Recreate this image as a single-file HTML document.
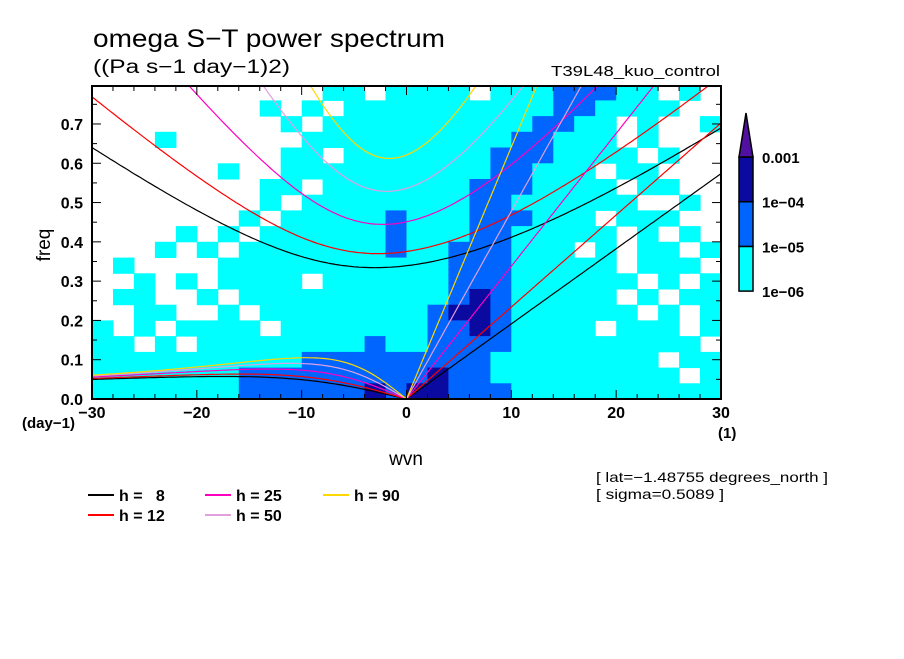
<!DOCTYPE html>
<html><head><meta charset="utf-8"><style>
body{margin:0;background:#fff;width:904px;height:654px;overflow:hidden;font-family:"Liberation Sans",sans-serif}
svg text{font-family:"Liberation Sans",sans-serif;fill:#000}
</style></head><body>
<svg id="chart" width="904" height="654" viewBox="0 0 904 654" xmlns="http://www.w3.org/2000/svg">
<text x="93" y="47" font-size="25" textLength="352" lengthAdjust="spacingAndGlyphs">omega S−T power spectrum</text>
<text x="93" y="73" font-size="19" textLength="197" lengthAdjust="spacingAndGlyphs">((Pa s−1 day−1)2)</text>
<text x="551" y="76" font-size="15" textLength="169" lengthAdjust="spacingAndGlyphs">T39L48_kuo_control</text>
<g id="field"></g>
<g id="curves"></g>
<rect x="92" y="86" width="629" height="313" fill="none" stroke="#000" stroke-width="2"/>
<g id="ticks"></g>
<text x="50" y="245" font-size="19" text-anchor="middle" transform="rotate(-90 50 245)">freq</text>
<text x="406" y="465" font-size="19" text-anchor="middle">wvn</text>
<text x="22" y="428" font-size="15" font-weight="bold">(day−1)</text>
<text x="718" y="438" font-size="15" font-weight="bold">(1)</text>
<g id="cbar"></g>
<text x="596" y="482" font-size="14" textLength="232" lengthAdjust="spacingAndGlyphs">[ lat=−1.48755 degrees_north ]</text>
<text x="596" y="499" font-size="14" textLength="128" lengthAdjust="spacingAndGlyphs">[ sigma=0.5089 ]</text>
<g id="legend"></g>
</svg>
<script>
const depths=[8,12,25,50,90];
const depthColors=["#000000","#ff0000","#ff00c0","#e0a0e0","#ffd700"];
const levelLabels=["1e-06","1e-05","1e-04","0.001"];
const levelColors=["#ffffff","#00ffff","#0064ff","#0a0aa0"];
const xTicks=[-30,-20,-10,0,10,20,30];
const yTicks=[0.0,0.1,0.2,0.3,0.4,0.5,0.6,0.7];
// power level grid (0=below 1e-06 .. 3), rows from freq 0.80 down to 0, cols wvn -30..30 step 2
const fieldRows=[
"000000000001101111011122211010",
"000000001010111111111122111100",
"000000000101111111111221101001",
"000100000011111111112211101000",
"000000000110111111122211110100",
"000000100111111111122111011000",
"000000001101111111222111101100",
"000000001011111111221111110010",
"000000010111112111222111011100",
"000010101111112111221111101010",
"000101011111112112221110101101",
"010000111111111112221111101110",
"001010111101111112221111110101",
"011001011111111112321111101011",
"001100101111111123321111110101",
"101011110111111122321111011101",
"110101111111121122221111111110",
"111111111122222222211111111011",
"111111122222222232211111111101",
"111111122222232332221111111111"];
const xMin=-30,xMax=30,fMax=0.8;
const X0=92,X1=721,Y0=399,YT=86,PPF=392.9;
const sx=k=>X0+(k-xMin)*(X1-X0)/(xMax-xMin);
const sy=f=>Y0-f*PPF;
const NS="http://www.w3.org/2000/svg";
function mk(t,a,p){const e=document.createElementNS(NS,t);for(const k in a)e.setAttribute(k,a[k]);p.appendChild(e);return e;}
const svg=document.getElementById('chart');
const defs=mk('defs',{},svg);
const cp=mk('clipPath',{id:'pc'},defs);
mk('rect',{x:X0,y:YT,width:X1-X0,height:Y0-YT},cp);
const field=document.getElementById('field');
field.setAttribute('clip-path','url(#pc)');
const nR=fieldRows.length,nC=fieldRows[0].length,df=fMax/nR,dk=(xMax-xMin)/nC;
fieldRows.forEach((row,ri)=>{
  for(let ci=0;ci<nC;ci++){
    const v=+row[ci]; if(!v) continue;
    const k0=xMin+ci*dk,f1=fMax-ri*df;
    const r=mk('rect',{x:sx(k0).toFixed(1),y:sy(f1).toFixed(1),width:(sx(k0+dk)-sx(k0)+0.5).toFixed(1),height:(df*PPF+0.5).toFixed(1),fill:levelColors[v]},field);
    
    
  }
});
const g=9.81,a=6.371e6,beta=2*7.292e-5/a,toCpd=86400/(2*Math.PI);
function roots(k,c){const p=-(c*c*k*k+3*beta*c),q=-beta*c*c*k;const m=2*Math.sqrt(-p/3);
  let arg=3*q/(2*p)*Math.sqrt(-3/p);arg=Math.max(-1,Math.min(1,arg));const th=Math.acos(arg)/3;
  return [0,1,2].map(j=>m*Math.cos(th-2*Math.PI*j/3)).sort((u,v)=>u-v);}
const curves=document.getElementById('curves');
curves.setAttribute('clip-path','url(#pc)');
depths.forEach((h,i)=>{
  const c=Math.sqrt(g*h);
  let ig=[],ros=[],kel=[];
  for(let s=xMin;s<=xMax+1e-9;s+=0.25){
    const k=s/a;const r=roots(k,c);
    ig.push([sx(s),sy(r[2]*toCpd)]);
    if(s<=0) ros.push([sx(s),sy(Math.max(0,r[1])*toCpd)]);
    if(s>=0) kel.push([sx(s),sy(c*k*toCpd)]);
  }
  [['ig',ig],['rossby',ros],['kelvin',kel]].forEach(([nm,pts])=>{
    const e=mk('polyline',{points:pts.map(p=>p[0].toFixed(1)+','+p[1].toFixed(1)).join(' '),fill:'none',stroke:depthColors[i],'stroke-width':1.2},curves);
    
    
  });
});
const tk=document.getElementById('ticks');
function line(x1,y1,x2,y2,w){mk('line',{x1,y1,x2,y2,stroke:'#000','stroke-width':w||1},tk);}
for(let s=xMin;s<=xMax;s+=2){const x=sx(s),L=(s%10===0)?9:5;line(x,Y0,x,Y0-L);line(x,YT,x,YT+L);}
for(let f=0;f<=0.8001;f+=0.05){const y=sy(f);if(y<YT)continue;const L=(Math.round(f*100)%10===0)?9:5;line(X0,y,X0+L,y);line(X1,y,X1-L,y);}
xTicks.forEach(v=>{const t=mk('text',{x:sx(v),y:418,'font-size':16,'font-weight':'bold','text-anchor':'middle'},tk);t.textContent=v<0?'−'+(-v):String(v);
  
  });
yTicks.forEach(v=>{const t=mk('text',{x:83,y:sy(v)+6,'font-size':16,'font-weight':'bold','text-anchor':'end'},tk);t.textContent=v.toFixed(1);
  
  });
const cb=document.getElementById('cbar');
const cbx=739,cbw=14,cbTop=157,cbh=44.7;
for(let i=1;i<=3;i++){const y=cbTop+(3-i)*cbh;
  const r=mk('rect',{x:cbx,y:y,width:cbw,height:cbh,fill:levelColors[i],stroke:'#000','stroke-width':1.5},cb);
  
  }
const tri=mk('polygon',{points:`${cbx},${cbTop} ${cbx+cbw},${cbTop} ${cbx+cbw/2},113`,fill:'#5010a0',stroke:'#000','stroke-width':1.5},cb);


levelLabels.forEach((l,i)=>{const t=mk('text',{x:762,y:cbTop+(3-i)*cbh+6,'font-size':15,'font-weight':'bold'},cb);t.textContent=l.replace('-','−');
  
  });
const lg=document.getElementById('legend');
const lpos=[[88,495],[88,515],[205,495],[205,515],[323,495]];
depths.forEach((h,i)=>{const [x,y]=lpos[i];
  const l=mk('line',{x1:x,y1:y,x2:x+26,y2:y,stroke:depthColors[i],'stroke-width':2},lg);
  
  
  const t=mk('text',{x:x+31,y:y+6,'font-size':16,'font-weight':'bold'},lg);
  t.textContent='h = '+(h<10?'\u2007'+h:h);
  
  });
</script>
</body></html>
